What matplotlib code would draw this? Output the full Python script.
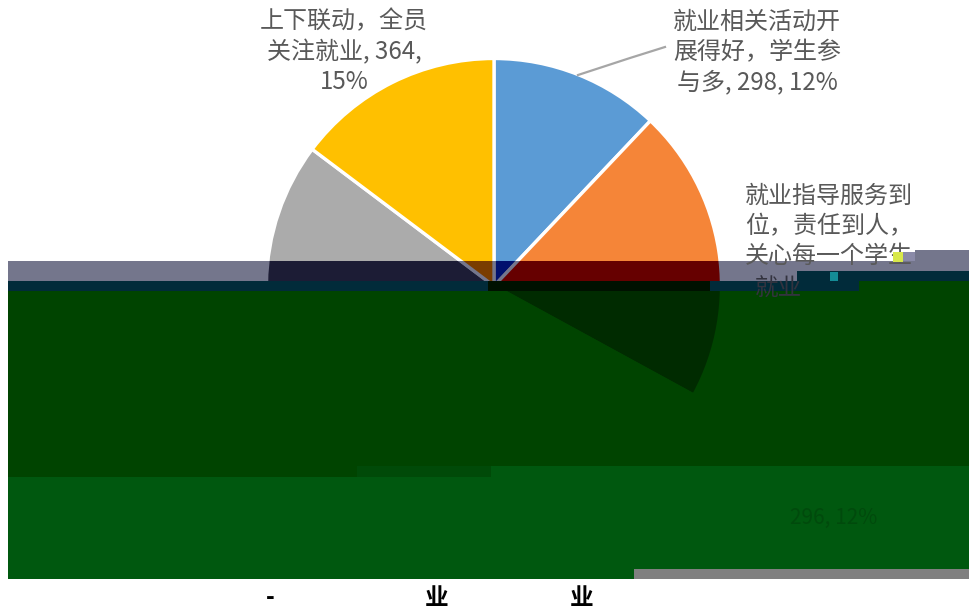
import matplotlib
matplotlib.use("Agg")
import matplotlib.pyplot as plt
from matplotlib.patches import Rectangle

plt.rcParams['font.family'] = ['Noto Sans CJK SC', 'DejaVu Sans']

# slices, clockwise from 12 o'clock. orange and the two lower ones are estimated,
# their labels are lost under the broken part of the picture
values = [298, 516, 296, 996, 364]
colors = ['#5B9BD5', '#F58538', '#70AD47', '#ABABAB', '#FFC000']

# same slices as they show through the dark bands
band1_colors = ['#00106E', '#660000', '#1C1C35', '#1C1C35', '#7A3D00']
green_colors = ['#004400', '#002B00', '#004400', '#004400', '#004400']

label_top_left = '上下联动，全员\n关注就业, 364,\n15%'
label_top_right = '就业相关活动开\n展得好，学生参\n与多, 298, 12%'
label_right = '就业指导服务到\n位，责任到人，\n关心每一个学生'

W, H = 969, 614
CENTER = (494, H - 286)
RADIUS = 227.5


def rect(ax, x0, y0, x1, y1, color, z):
    # picture coordinates, y going down
    r = Rectangle((x0, H - y1), x1 - x0, y1 - y0, facecolor=color, edgecolor='none', zorder=z)
    ax.add_patch(r)
    return r


def draw_pie(ax, cols, z, clip=None, edge='white'):
    wedges, _ = ax.pie(values, colors=cols, startangle=90, counterclock=False,
                       center=CENTER, radius=RADIUS,
                       wedgeprops=dict(edgecolor=edge, linewidth=2.4))
    for w in wedges:
        w.set_zorder(z)
        if clip is not None:
            # pie turns clipping off by default
            w.set_clip_on(True)
            w.set_clip_path(clip)


fig = plt.figure(figsize=(W / 100, H / 100), dpi=100, facecolor='white')
ax = fig.add_axes([0, 0, 1, 1])

draw_pie(ax, colors, 1)

# grey band
band1 = rect(ax, 8, 261, 969, 281, '#74768C', 2)
rect(ax, 915, 250, 969, 261, '#74768C', 2)
draw_pie(ax, band1_colors, 3, clip=band1, edge='#74768C')

# teal band
rect(ax, 8, 281, 969, 291, '#012B3A', 4)
rect(ax, 797, 271, 969, 281, '#012B3A', 4)
rect(ax, 488, 281, 710, 291, '#001100', 5)

# green blocks
rect(ax, 859, 281, 969, 291, '#004400', 4)
green = rect(ax, 8, 291, 969, 477, '#004400', 6)
draw_pie(ax, green_colors, 7, clip=green, edge='#004400')
rect(ax, 357, 466, 491, 477, '#004A08', 8)
rect(ax, 491, 466, 969, 477, '#00580F', 8)
rect(ax, 8, 477, 969, 579, '#00580F', 8)
rect(ax, 634, 569, 969, 579, '#808080', 9)

# leader line of the blue slice
ax.plot([578, 630, 665], [H - 75, H - 58, H - 47], color='#A6A6A6', lw=1.6, zorder=10)

text_kw = dict(color='#595959', fontsize=17.3, linespacing=1.22, zorder=11)
ax.text(344, H - 52, label_top_left, ha='center', va='center', **text_kw)
ax.text(757, H - 52, label_top_right, ha='center', va='center', **text_kw)
ax.text(745, H - 226, label_right, ha='left', va='center', **text_kw)
ax.text(755, H - 289, '就业', ha='left', va='center', color='#33333F', fontsize=17, zorder=11)

# what can still be read of the label under the green
ax.text(834, H - 518, '296, 12%', ha='center', va='center', color='#004A0C', fontsize=15, zorder=11)

# the bottom title, only these pieces survived
for x, s in zip([270, 437, 582], ['-', '业', '业']):
    ax.text(x, H - 598, s, ha='center', va='center', color='black', fontsize=17,
            fontweight='bold', zorder=11)

# pixel noise at the end of the third line
rect(ax, 893, 252, 903, 262, '#D8E84A', 12)
rect(ax, 903, 252, 915, 261, '#8A8AA8', 12)
rect(ax, 830, 272, 838, 281, '#148C96', 12)

ax.set_xlim(0, W)
ax.set_ylim(0, H)
ax.set_aspect('auto')
ax.axis('off')

fig.savefig('out.png', dpi=100)
